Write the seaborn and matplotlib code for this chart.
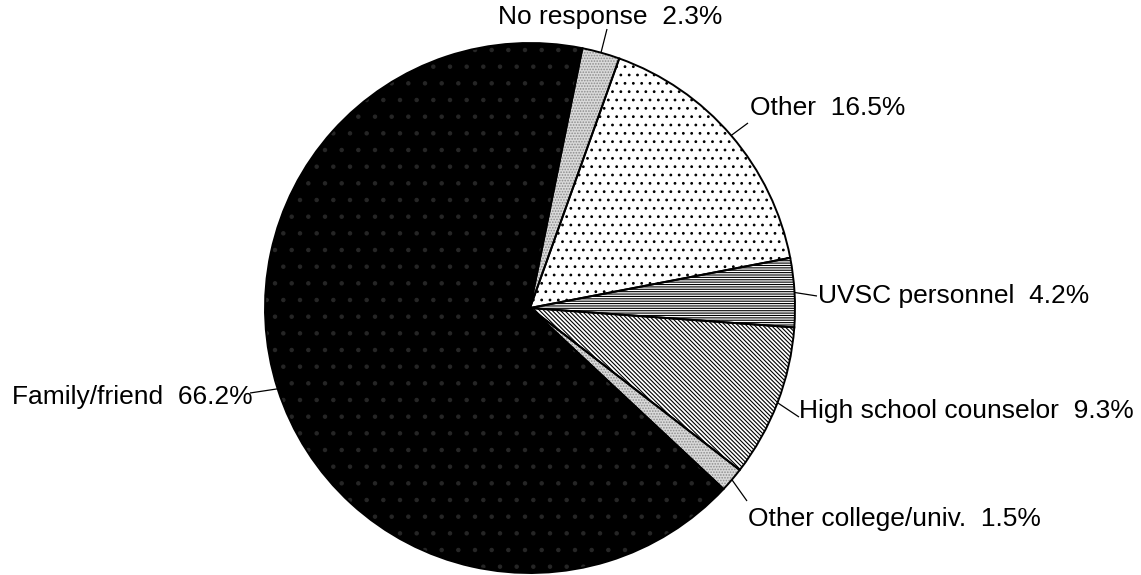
import matplotlib
matplotlib.use("Agg")
import matplotlib.pyplot as plt
import numpy as np
import seaborn as sns

# Survey: who most influenced the choice of college
sources = ["No response", "Other", "UVSC personnel", "High school counselor",
           "Other college/univ.", "Family/friend"]
shares = [2.3, 16.5, 4.2, 9.3, 1.5, 66.2]

# fill style per slice (black & white print look)
face_colors = ["#dadada", "white", "white", "white", "#dadada", "black"]
hatch_colors = ["#8c8c8c", "black", "black", "black", "#8c8c8c", "#262626"]
hatches = ["......", "..", "-------", "\\" * 8, "......", "."]

sns.set_style("white")
plt.rcParams["font.family"] = ["Liberation Sans", "DejaVu Sans"]
plt.rcParams["hatch.linewidth"] = 0.8

W, H = 1141, 575
CX, CY, R = 530, 308, 265  # pie centre / radius in pixels


def px(x, y):
    # pixel position -> data coords (pie radius = 1)
    return (x - CX) / R, (CY - y) / R


fig = plt.figure(figsize=(W / 100, H / 100), dpi=100)
ax = fig.add_axes([0, 0, 1, 1])

wedges, _ = ax.pie(shares, startangle=78.6, counterclock=False,
                   colors=face_colors, hatch=hatches,
                   wedgeprops=dict(linewidth=0))
for w, hc in zip(wedges, hatch_colors):
    w.set_edgecolor(hc)
    w.set_linewidth(0)

# outlines on top
ax.pie(shares, startangle=78.6, counterclock=False,
       colors=["none"] * len(shares),
       wedgeprops=dict(linewidth=1.4, edgecolor="black", facecolor="none"))

# leader line end (pixels) and text anchor (left, baseline in pixels)
leader_end = [(607, 29), (748, 123), (817, 296), (799, 417), (747, 501), (250, 393)]
text_pos = [(498, 24), (750, 115), (818, 303), (799, 418), (748, 526), (12, 404)]

for w, name, pct, le, tp in zip(wedges, sources, shares, leader_end, text_pos):
    mid = np.deg2rad((w.theta1 + w.theta2) / 2)
    x0, y0 = np.cos(mid), np.sin(mid)
    x1, y1 = px(*le)
    ax.plot([x0, x1], [y0, y1], color="black", linewidth=0.9, solid_capstyle="butt")
    tx, ty = px(*tp)
    ax.text(tx, ty, f"{name}  {pct:.1f}%", ha="left", va="baseline",
            fontsize=19, color="black")

ax.set_aspect("auto")
ax.set_xlim(px(0, 0)[0], px(W, 0)[0])
ax.set_ylim(px(0, H)[1], px(0, 0)[1])
ax.axis("off")

fig.savefig("out.png", dpi=100)
